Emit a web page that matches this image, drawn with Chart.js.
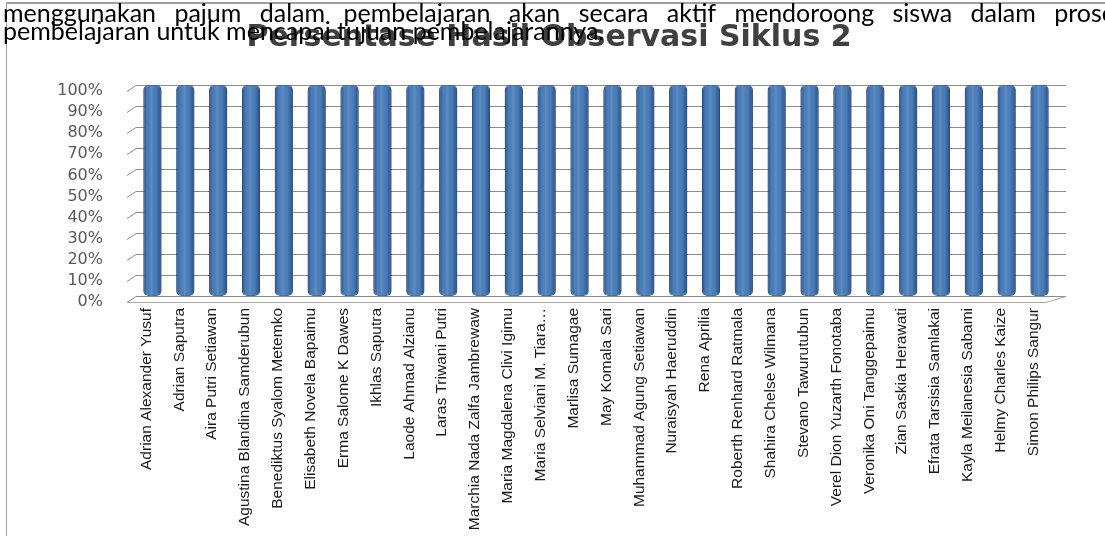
<!DOCTYPE html>
<html>
<head>
<meta charset="utf-8">
<script src="https://cdn.jsdelivr.net/npm/chart.js@4"></script>
<style>
    html, body { margin: 0; padding: 0; background: #fff; overflow: hidden; }
    #wrap { position: relative; width: 1105px; height: 536px; }
    #frame {
        position: absolute; left: 6px; top: 2px; right: -2px; bottom: -2px;
        border-left: 1px solid #a0a0a0; border-top: 2px solid #a0a0a0;
    }
    #chart { position: absolute; left: 0; top: 0; }
    .line {
        position: absolute; left: 3px; font-family: Lato, "Noto Sans", sans-serif;
        font-size: 25px; line-height: 18px; color: #000; white-space: nowrap;
    }
    #l1 { top: 3px; width: 1112px; display: flex; justify-content: space-between; }
    #l2 { top: 21px; }
</style>
</head>
<body>
<div id="wrap">
    <div id="frame"></div>
    <canvas id="chart" width="1105" height="536"></canvas>
    <div class="line" id="l1"></div>
    <div class="line" id="l2"></div>
</div>
<script>
// body text of the page around the chart
const textLine1 = 'menggunakan pajum dalam pembelajaran akan secara aktif mendoroong siswa dalam prose';
const textLine2 = 'pembelajaran untuk mencapai tujuan pembelajarannya.';

const chartTitle = 'Persentase Hasil Observasi Siklus 2';

const students = [
    'Adrian Alexander Yusuf', 'Adrian Saputra', 'Aira Putri Setiawan',
    'Agustina Blandina Samderubun', 'Benediktus Syalom Metemko',
    'Elisabeth Novela Bapaimu', 'Erma Salome K Dawes', 'Ikhlas Saputra',
    'Laode Ahmad Alzianu', 'Laras Triwani Putri', 'Marchia Nada Zalfa Jambrewaw',
    'Maria Magdalena Clivi Igimu', 'Maria Selviani M. Tiara…', 'Marlisa Sumagae',
    'May Komala Sari', 'Muhammad Agung Setiawan', 'Nuraisyah Haeruddin',
    'Rena Aprilia', 'Roberth Renhard Ratmala', 'Shahira Chelse Wilmana',
    'Stevano Tawurutubun', 'Verel Dion Yuzarth Fonotaba', 'Veronika Oni Tanggepaimu',
    'Zian Saskia Herawati', 'Efrata Tarsisia Samlakai', 'Kayla Meilanesia Sabami',
    'Helmy Charles Kaize', 'Simon Philips Sangur'
];

const percentages = [
    100, 100, 100, 100, 100, 100, 100, 100, 100, 100,
    100, 100, 100, 100, 100, 100, 100, 100, 100, 100,
    100, 100, 100, 100, 100, 100, 100, 100
];

const yMin = 0;
const yMax = 100;
const yStep = 10;

// fill the text lines, first one is justified word by word
textLine1.split(' ').forEach(w => {
    const s = document.createElement('span');
    s.textContent = w;
    document.getElementById('l1').appendChild(s);
});
document.getElementById('l2').textContent = textLine2;

// side wall, floor and right edge of the 3d back wall
const wall3d = {
    id: 'wall3d',
    beforeDatasetsDraw(chart) {
        const ctx = chart.ctx;
        const area = chart.chartArea;
        const y = chart.scales.y;
        ctx.save();
        ctx.strokeStyle = '#8c8c8c';
        ctx.lineWidth = 1;
        y.ticks.forEach(t => {
            const py = Math.round(y.getPixelForValue(t.value)) + 0.5;
            ctx.beginPath();
            ctx.moveTo(area.left - 9, py + 6);
            ctx.lineTo(area.left, py);
            ctx.lineTo(area.right + 10, py);
            ctx.stroke();
        });
        // floor front edge
        const py0 = Math.round(y.getPixelForValue(yMin)) + 0.5;
        ctx.strokeStyle = '#a6a6a6';
        ctx.beginPath();
        ctx.moveTo(area.left - 9, py0 + 6);
        ctx.lineTo(area.right - 10, py0 + 6);
        ctx.lineTo(area.right + 10, py0);
        ctx.stroke();
        ctx.restore();
    },
    afterDatasetsDraw(chart) {
        // cylinder-like shading over every bar
        const ctx = chart.ctx;
        const meta = chart.getDatasetMeta(0);
        ctx.save();
        meta.data.forEach(el => {
            const p = el.getProps(['x', 'y', 'base', 'width'], true);
            const l = p.x - p.width / 2;
            const g = ctx.createLinearGradient(l, 0, l + p.width, 0);
            g.addColorStop(0, 'rgba(20,45,90,0.55)');
            g.addColorStop(0.22, 'rgba(20,45,90,0)');
            g.addColorStop(0.45, 'rgba(255,255,255,0.12)');
            g.addColorStop(0.7, 'rgba(20,45,90,0)');
            g.addColorStop(1, 'rgba(20,45,90,0.6)');
            ctx.fillStyle = g;
            ctx.beginPath();
            ctx.roundRect(l, p.y, p.width, p.base - p.y, 5);
            ctx.fill();
        });
        ctx.restore();
    }
};

new Chart(document.getElementById('chart'), {
    type: 'bar',
    data: {
        labels: students,
        datasets: [{
            data: percentages,
            backgroundColor: '#4a7ebb',
            borderColor: '#3d6aa2',
            borderWidth: 1,
            borderSkipped: false,
            borderRadius: 5,
            categoryPercentage: 1,
            barPercentage: 0.55
        }]
    },
    options: {
        responsive: false,
        animation: false,
        devicePixelRatio: 1,
        layout: { padding: { left: 42, right: 49, top: 0, bottom: 0 } },
        plugins: {
            legend: { display: false },
            tooltip: { enabled: false },
            title: {
                display: true,
                text: chartTitle,
                color: '#404040',
                font: { family: '"DejaVu Sans", sans-serif', size: 30, weight: 'bold' },
                padding: { top: 20, bottom: 29 }
            }
        },
        scales: {
            x: {
                grid: { display: false, drawTicks: false },
                border: { display: false },
                ticks: {
                    autoSkip: false,
                    minRotation: 90,
                    maxRotation: 90,
                    padding: 12,
                    labelOffset: -6,
                    color: '#1a1a1a',
                    font: { family: '"Liberation Sans", Arial, sans-serif', size: 15.5 }
                },
                afterFit(scale) { scale.height = 240; }
            },
            y: {
                min: yMin,
                max: yMax,
                grid: { display: false, drawTicks: false },
                border: { display: false },
                ticks: {
                    stepSize: yStep,
                    autoSkip: false,
                    padding: 33,
                    labelOffset: 6,
                    color: '#595959',
                    font: { family: '"DejaVu Sans", sans-serif', size: 16 },
                    callback: v => v + '%'
                },
                afterFit(scale) { scale.width = 94; }
            }
        }
    },
    plugins: [wall3d]
});
</script>
</body>
</html>
